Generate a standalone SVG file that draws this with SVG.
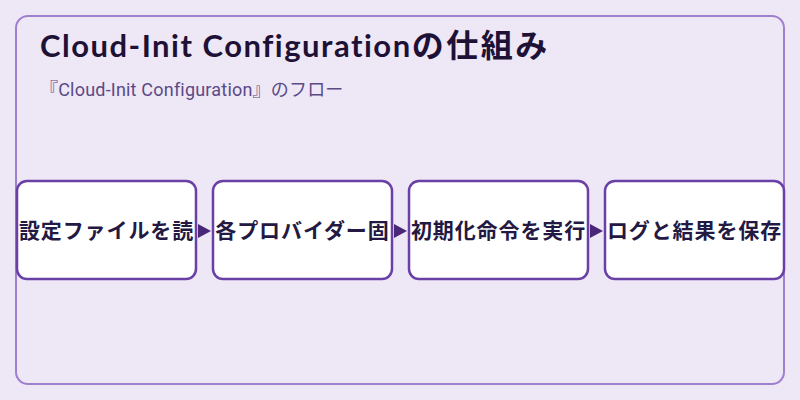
<svg xmlns="http://www.w3.org/2000/svg" width="800" height="400" viewBox="0 0 800 400">
<defs>
<style>
.bg{fill:#EEE7F6}
.panel{fill:#EEE7F6;stroke:#9E80CF;stroke-width:2}
.node{fill:#FFFFFF;stroke:#6B40A6;stroke-width:2.5}
.lbl{font-family:"Noto Sans CJK JP","Noto Sans",sans-serif;font-weight:bold;font-size:21px;fill:#231942;text-anchor:middle;letter-spacing:0.9px}
.title{font-family:Lato,"Noto Sans CJK JP",sans-serif;font-weight:bold;font-size:31px;fill:#1E1136;letter-spacing:1.5px}
.tcjk{font-family:"Noto Sans CJK JP",sans-serif;font-size:32px;letter-spacing:2.5px}
.sub{font-family:Roboto,"Noto Sans CJK JP",sans-serif;font-size:18px;fill:#5A4A86;letter-spacing:0.2px}
.arr{fill:#4A2877}
</style>
</defs>
<rect class="bg" x="0" y="0" width="800" height="400"/>
<rect class="panel" x="16" y="16" width="768" height="368" rx="12"/>
<text class="title" x="40" y="57">Cloud-Init Configuration<tspan class="tcjk">の仕組み</tspan></text>
<text class="sub" x="40" y="96">『Cloud-Init Configuration』のフロー</text>
<g id="connectors">
<polygon class="arr" points="198,224 211,231 198,238"/>
<polygon class="arr" points="394,224 407,231 394,238"/>
<polygon class="arr" points="590,224 603,231 590,238"/>
</g>
<g id="node1">
<rect class="node" x="17" y="181" width="179" height="98" rx="10"/>
<text class="lbl" x="106.5" y="238">設定ファイルを読</text>
</g>
<g id="node2">
<rect class="node" x="213" y="181" width="179" height="98" rx="10"/>
<text class="lbl" x="302.5" y="238">各プロバイダー固</text>
</g>
<g id="node3">
<rect class="node" x="409" y="181" width="179" height="98" rx="10"/>
<text class="lbl" x="498.5" y="238">初期化命令を実行</text>
</g>
<g id="node4">
<rect class="node" x="605" y="181" width="179" height="98" rx="10"/>
<text class="lbl" x="694.5" y="238">ログと結果を保存</text>
</g>
</svg>
